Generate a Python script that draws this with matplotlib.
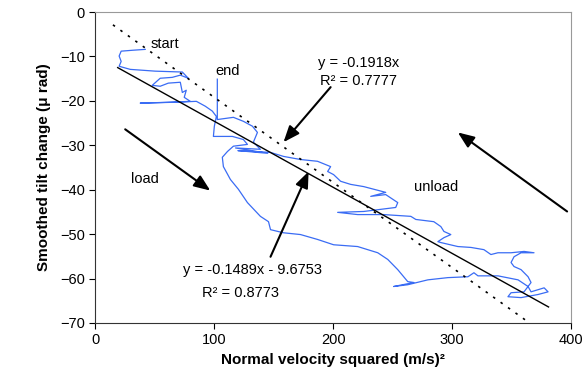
import numpy as np
import matplotlib
matplotlib.use("Agg")
import matplotlib.pyplot as plt

plt.rcParams['font.family'] = ['Liberation Sans', 'DejaVu Sans']

# smoothed tilt trace (x = velocity^2, y = tilt)
trace_x = [42.1, 31.2, 21.9, 20.2, 21.9, 20.2, 29.5, 50.5, 73.3, 78.3, 71.6, 64.8, 54.7, 48.0,
           54.7, 61.5, 71.6, 73.3, 76.6, 74.9, 80.0, 63.2, 37.9, 67.4, 85.1, 92.6, 98.5, 101.9,
           100.2, 99.4,
           115.4, 124.6, 128.0, 116.2, 111.2, 106.9, 107.8, 113.7, 120.4, 128.0, 138.9, 145.7,
           147.4, 158.3, 172.6, 186.9, 200.4, 220.6, 237.5, 245.9, 254.3, 262.7, 267.8, 250.9,
           262.7, 279.6, 296.4, 313.3, 318.3, 321.7, 338.5, 355.4, 363.8, 366.3, 377.3, 380.6,
           372.2, 357.9, 346.9, 349.5, 360.4, 366.3, 363.8, 357.9, 352.0, 349.5, 352.0, 357.9,
           368.8, 360.4, 349.5, 338.5, 332.6, 326.7, 315.8, 304.8, 290.5, 288.0, 293.1, 298.9,
           293.1, 290.5, 284.6,
           269.5, 265.3, 242.5, 220.6, 203.8, 225.7, 252.6, 254.3, 244.2, 231.6, 244.2, 225.7,
           214.7, 206.3, 200.4, 195.4, 197.9, 186.9, 172.6, 158.3, 147.4, 120.0, 145.0, 118.0,
           138.9, 133.0, 136.4, 132.2, 124.6, 116.2, 102.7, 102.7]
trace_y = [-8.4, -8.6, -8.8, -9.9, -11.1, -12.2, -12.9, -13.3, -13.5, -14.9, -14.2, -14.7, -14.9, -16.5,
           -16.7, -16.0, -15.8, -18.1, -17.6, -19.2, -20.1, -20.3, -20.5, -20.3, -20.1, -21.2, -22.3, -23.5,
           -25.7, -28.0,
           -28.0, -28.7, -29.8, -30.2, -31.4, -32.7, -34.8, -37.7, -39.9, -42.9, -46.0, -47.2,
           -49.0, -49.7, -50.1, -51.2, -52.4, -52.8, -54.2, -55.7, -58.0, -60.7, -60.9, -61.8,
           -61.4, -60.3, -59.8, -59.6, -58.7, -59.4, -59.4, -60.3, -61.8, -63.0, -62.1, -63.0,
           -63.6, -64.3, -64.1, -63.2, -63.0, -60.9, -59.6, -58.0, -57.3, -56.4, -55.1, -54.2,
           -54.2, -53.9, -54.2, -54.2, -54.6, -53.5, -53.0, -52.8, -51.9, -51.7, -50.8, -50.1,
           -49.4, -48.3, -47.2,
           -46.7, -46.0, -45.6, -45.6, -45.1, -44.9, -44.0, -42.9, -41.1, -41.5, -40.6, -39.3,
           -38.8, -38.1, -36.6, -35.9, -34.8, -33.6, -33.2, -32.5, -31.6, -31.2, -31.8, -30.6,
           -30.9, -29.3, -27.1, -25.7, -24.6, -23.7, -24.2, -15.1]

# fitted lines
fit1_slope, fit1_icpt = -0.1489, -9.6753
fit1_range = [19, 381]
fit2_slope = -0.1918
fit2_range = [15, 365]

x_ticks = [0, 100, 200, 300, 400]
y_ticks = [0, -10, -20, -30, -40, -50, -60, -70]

fig = plt.figure(figsize=(5.87, 3.90), dpi=100)
ax = fig.add_axes([0.162, 0.172, 0.811, 0.797])

ax.plot(trace_x, trace_y, color='#3a6cf4', lw=0.9)

fx = np.array(fit1_range)
ax.plot(fx, fit1_slope * fx + fit1_icpt, color='black', lw=1.0)
dx = np.array(fit2_range)
ax.plot(dx, fit2_slope * dx, color='black', lw=1.2, linestyle=(0, (1.5, 4)))

ax.set_xlim(0, 400)
ax.set_ylim(-70, 0)
ax.set_xticks(x_ticks)
ax.set_yticks(y_ticks)
ax.tick_params(labelsize=10.5, direction='out', length=4, colors='black')
for s in ['left', 'bottom']:
    ax.spines[s].set_color('#333333')
for s in ['top', 'right']:
    ax.spines[s].set_color('#999999')

ax.set_xlabel("Normal velocity squared (m/s)²", fontsize=11, fontweight='bold', labelpad=4)
ax.set_ylabel("Smoothed tilt change (μ rad)", fontsize=11, fontweight='bold', labelpad=6)

fs = 10.5
ax.text(46.3, -7.2, "start", fontsize=fs, ha='left', va='center')
ax.text(101, -13.3, "end", fontsize=fs, ha='left', va='center')
ax.text(221.5, -11.5, "y = -0.1918x", fontsize=fs, ha='center', va='center')
ax.text(221.5, -15.6, "R² = 0.7777", fontsize=fs, ha='center', va='center')
ax.text(42.1, -37.7, "load", fontsize=fs, ha='center', va='center')
ax.text(286.3, -39.5, "unload", fontsize=fs, ha='center', va='center')
ax.text(132.2, -58.0, "y = -0.1489x - 9.6753", fontsize=fs, ha='center', va='center')
ax.text(122.1, -63.2, "R² = 0.8773", fontsize=fs, ha='center', va='center')

arrow = dict(arrowstyle='-|>,head_length=0.7,head_width=0.28', color='black', lw=1.5,
             mutation_scale=14, shrinkA=0, shrinkB=0)
ax.annotate("", xy=(158.3, -29.3), xytext=(197.9, -16.9), arrowprops=arrow)
ax.annotate("", xy=(179.4, -35.9), xytext=(147.4, -55.1), arrowprops=arrow)
ax.annotate("", xy=(96.8, -40.2), xytext=(25.3, -26.4), arrowprops=arrow)
ax.annotate("", xy=(304.8, -27.1), xytext=(396.6, -44.9), arrowprops=arrow)

fig.savefig("out.png", dpi=100)
